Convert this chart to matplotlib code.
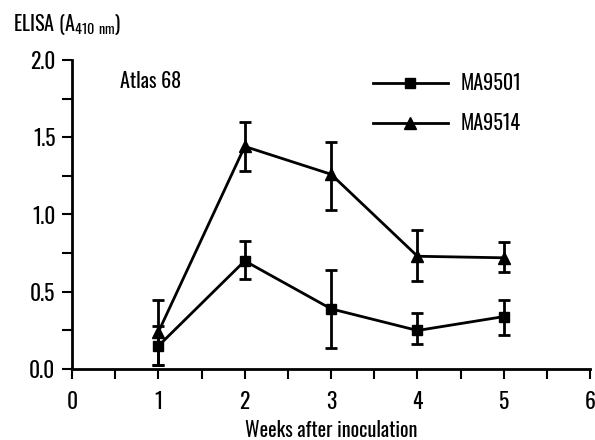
import matplotlib
matplotlib.use("Agg")
import matplotlib.pyplot as plt
from matplotlib.ticker import MultipleLocator
from matplotlib.lines import Line2D

FONT = 'Oswald'
plt.rcParams['font.family'] = [FONT, 'DejaVu Sans']
plt.rcParams['mathtext.fontset'] = 'custom'
plt.rcParams['mathtext.rm'] = FONT

weeks = [1, 2, 3, 4, 5]
ma9501 = [0.15, 0.70, 0.39, 0.25, 0.34]
ma9501_lo = [0.03, 0.58, 0.14, 0.16, 0.22]
ma9501_hi = [0.28, 0.83, 0.64, 0.36, 0.45]
ma9514 = [0.24, 1.44, 1.26, 0.73, 0.72]
ma9514_lo = [0.03, 1.28, 1.03, 0.57, 0.63]
ma9514_hi = [0.45, 1.60, 1.47, 0.90, 0.82]
yticks = [0, 0.5, 1.0, 1.5, 2.0]
ytick_labels = ['0.0', '0.5', '1.0', '1.5', '2.0']

fig = plt.figure(figsize=(5.95, 4.4), dpi=100)
ax = fig.add_axes([0.121, 0.161, 0.871, 0.703])

def err(v, lo, hi):
    return [[a - b for a, b in zip(v, lo)], [b - a for a, b in zip(v, hi)]]

kw = dict(color='black', lw=2.0, capsize=4, capthick=2.0, elinewidth=2.0)
ax.errorbar(weeks, ma9501, yerr=err(ma9501, ma9501_lo, ma9501_hi), marker='s', ms=7, **kw)
ax.errorbar(weeks, ma9514, yerr=err(ma9514, ma9514_lo, ma9514_hi), marker='^', ms=9, **kw)

ax.set_xlim(0, 6)
ax.set_ylim(0, 2.0)
ax.xaxis.set_major_locator(MultipleLocator(1))
ax.xaxis.set_minor_locator(MultipleLocator(0.5))
ax.yaxis.set_minor_locator(MultipleLocator(0.25))
ax.set_yticks(yticks)
ax.set_yticklabels(ytick_labels)
for s in ['top', 'right']:
    ax.spines[s].set_visible(False)
for s in ['left', 'bottom']:
    ax.spines[s].set_linewidth(2.0)
ax.tick_params(which='both', direction='out', width=1.5, labelsize=15.5, length=7)
ax.tick_params(axis='x', pad=9)
ax.tick_params(axis='y', pad=5)
ax.set_xlabel('Weeks after inoculation', fontsize=14.4, labelpad=5)
fig.text(0.022, 0.945, r'ELISA (A$_{\mathregular{410\ nm}}$)', fontsize=14.5, va='center', ha='left')
ax.text(0.093, 0.93, 'Atlas 68', transform=ax.transAxes, fontsize=14.5, va='center', ha='left')
handles = [Line2D([], [], color='black', lw=2.0, marker='s', ms=7),
           Line2D([], [], color='black', lw=2.0, marker='^', ms=9)]
ax.legend(handles, ['MA9501', 'MA9514'], loc='upper left', bbox_to_anchor=(0.546, 1.016),
          frameon=False, fontsize=14.5, handlelength=3.7, handletextpad=0.65, labelspacing=1.0)
fig.savefig('out.png', dpi=100)
